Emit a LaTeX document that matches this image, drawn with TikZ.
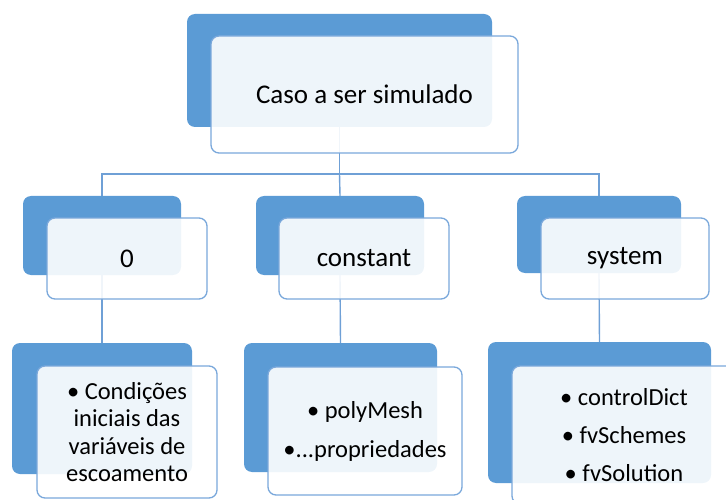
\documentclass[tikz,border=0pt]{standalone}
\usepackage{fontspec}
\setmainfont{Carlito}
\usetikzlibrary{backgrounds}
\definecolor{backblue}{HTML}{5B9BD5}
\definecolor{edgeblue}{HTML}{7AA8DB}
\definecolor{linkblue}{HTML}{6FA0D6}
\begin{document}
\begin{tikzpicture}[x=1pt,y=-1pt,
  backbox/.style={fill=backblue, draw=none, rounded corners=8pt, inner sep=0pt},
  frontbox/.style={fill=white, fill opacity=0.9, text opacity=1, draw=edgeblue, line width=1.3pt, rounded corners=8pt, inner sep=0pt, align=center},
  bigtext/.style={font=\fontsize{27}{32}\selectfont},
  smalltext/.style={font=\fontsize{24.5}{27.5}\selectfont},
  link/.style={draw=linkblue, line width=1.4pt}]
\useasboundingbox (0,0) rectangle (726,500);
% level 1
\node[backbox, minimum width=305pt, minimum height=113pt] (topb) at (339.5,70.5) {};
\node[frontbox, bigtext, minimum width=307pt, minimum height=117pt] (topf) at (364.5,94.5) {\hspace*{0pt}Caso a ser simulado};
% level 2
\node[backbox, minimum width=158pt, minimum height=79pt] (b0) at (102,235.5) {};
\node[frontbox, bigtext, minimum width=160pt, minimum height=81pt] (f0) at (127,258.5) {0};
\node[backbox, minimum width=168pt, minimum height=79pt] (b1) at (340,235.5) {};
\node[frontbox, bigtext, minimum width=170pt, minimum height=81pt] (f1) at (364,258.5) {constant};
\node[backbox, minimum width=164pt, minimum height=77pt] (b2) at (599,234.5) {};
\node[frontbox, bigtext, minimum width=168pt, minimum height=81pt] (f2) at (625,258.5) {system};
% level 3
\node[backbox, minimum width=180pt, minimum height=131pt] (c0) at (102,408.5) {};
\node[frontbox, smalltext, minimum width=180pt, minimum height=132pt] (g0) at (127,432) {• Condições\\iniciais das\\variáveis de\\escoamento};
\node[backbox, minimum width=193pt, minimum height=129pt] (c1) at (340.5,407.5) {};
\node[frontbox, smalltext, minimum width=194pt, minimum height=128pt] (g1) at (365,431) {• polyMesh\\[11.5pt]•...propriedades};
\node[backbox, minimum width=223pt, minimum height=141pt] (c2) at (599.5,412.5) {};
\node[frontbox, smalltext, minimum width=224pt, minimum height=138pt] (g2) at (624,435) {• controlDict\\[10.5pt]• fvSchemes\\[10.5pt]• fvSolution};
% connectors
\begin{scope}[on background layer]
\coordinate (hub) at (339.5,174);
\draw[link] (topb.south) -- (hub);
\draw[link] (b0.north) |- (hub) -| (b2.north);
\draw[link] (hub) -- (b1.north);
\draw[link] (b0.south) -- (c0.north);
\draw[link] (b1.south) -- (c1.north);
\draw[link] (b2.south) -- (c2.north);
\end{scope}
\end{tikzpicture}
\end{document}
